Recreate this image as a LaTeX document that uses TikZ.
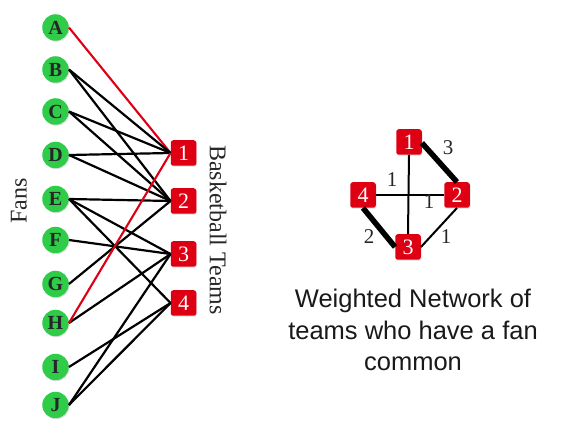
\documentclass[tikz,border=0pt]{standalone}
\usepackage{fontspec}
\setmainfont{Liberation Serif}
\newfontfamily\capfont{Liberation Sans}
\usetikzlibrary{shadows}
\definecolor{fangreen}{RGB}{46,204,72}
\definecolor{teamred}{RGB}{222,0,18}
\begin{document}
\begin{tikzpicture}[x=1pt,y=-1pt,
  fan/.style={circle,fill=fangreen,minimum size=26.5pt,inner sep=0pt,
    font=\fontsize{20}{20}\selectfont\bfseries,text=black!85,
    drop shadow={shadow xshift=0.8pt,shadow yshift=-1pt,opacity=0.25}},
  team/.style={rectangle,rounded corners=2.5pt,fill=teamred,minimum size=25.5pt,inner sep=0pt,
    font=\fontsize{22}{22}\selectfont,text=white,
    drop shadow={shadow xshift=0.8pt,shadow yshift=-1pt,opacity=0.25}},
  link/.style={line width=2.2pt,black},
  redlink/.style={line width=2.1pt,teamred},
  thin/.style={line width=2pt,black},
  thick/.style={line width=5.5pt,black},
  wlabel/.style={font=\fontsize{21}{21}\selectfont,text=black!85},
  side/.style={font=\fontsize{24}{24}\selectfont,text=black!85}]
\useasboundingbox (0,0) rectangle (565,443);
% fans
\node[fan] (A) at (55.5,27.5) {A};
\node[fan] (B) at (55.5,69.5) {B};
\node[fan] (C) at (55.5,111.5) {C};
\node[fan] (D) at (55.5,155) {D};
\node[fan] (E) at (55.5,199) {E};
\node[fan] (F) at (55.5,240) {F};
\node[fan] (G) at (55.5,284) {G};
\node[fan] (H) at (55.5,323) {H};
\node[fan] (I) at (55.5,367) {I};
\node[fan] (J) at (55.5,405) {J};
% teams
\node[team] (t1) at (183.5,153) {1};
\node[team] (t2) at (183.5,201) {2};
\node[team] (t3) at (183.5,254) {3};
\node[team] (t4) at (183.5,303) {4};
% side labels
\node[side,rotate=90] (fans) at (19,201) {Fans};
\node[side,rotate=-90] (bt) at (218,230) {Basketball Teams};
% bipartite edges
\draw[redlink] (A.east) -- (t1.west);
\draw[link] (B.east) -- (t1.west);
\draw[link] (B.east) -- (t2.west);
\draw[link] (C.east) -- (t1.west);
\draw[link] (C.east) -- (t2.west);
\draw[link] (D.east) -- (t1.west);
\draw[link] (D.east) -- (t2.west);
\draw[link] (E.east) -- (t2.west);
\draw[link] (E.east) -- (t3.west);
\draw[link] (E.east) -- (t4.west);
\draw[link] (F.east) -- (t3.west);
\draw[link] (G.east) -- (t2.west);
\draw[link] (H.east) -- (t3.west);
\draw[redlink] (H.east) -- (t1.west);
\draw[link] (I.east) -- (t4.west);
\draw[link] (J.east) -- (t3.west);
\draw[link] (J.east) -- (t4.west);
% weighted network
\node[team] (r1) at (409,142) {1};
\node[team] (r2) at (457,195) {2};
\node[team] (r4) at (363,195) {4};
\node[team] (r3) at (408,247) {3};
\draw[thin] (r1.south) -- (r3.north);
\draw[thin] (r4.east) -- (r2.west);
\draw[thick] ([yshift=-1pt]r1.east) -- (r2.north);
\draw[thick] (r4.south) -- (r3.west);
\draw[thin] (r2.south) -- (r3.east);
\node[wlabel] (w12) at (448,148) {3};
\node[wlabel] (w42) at (392,180) {1};
\node[wlabel] (w13) at (429,202) {1};
\node[wlabel] (w43) at (369,237) {2};
\node[wlabel] (w23) at (446,237) {1};
% caption
\node[align=center,font=\capfont\fontsize{25.5}{31.5}\selectfont,text=black!90] (cap) at (413,330)
  {Weighted Network of\\teams who have a fan\\common};
\end{tikzpicture}
\end{document}
